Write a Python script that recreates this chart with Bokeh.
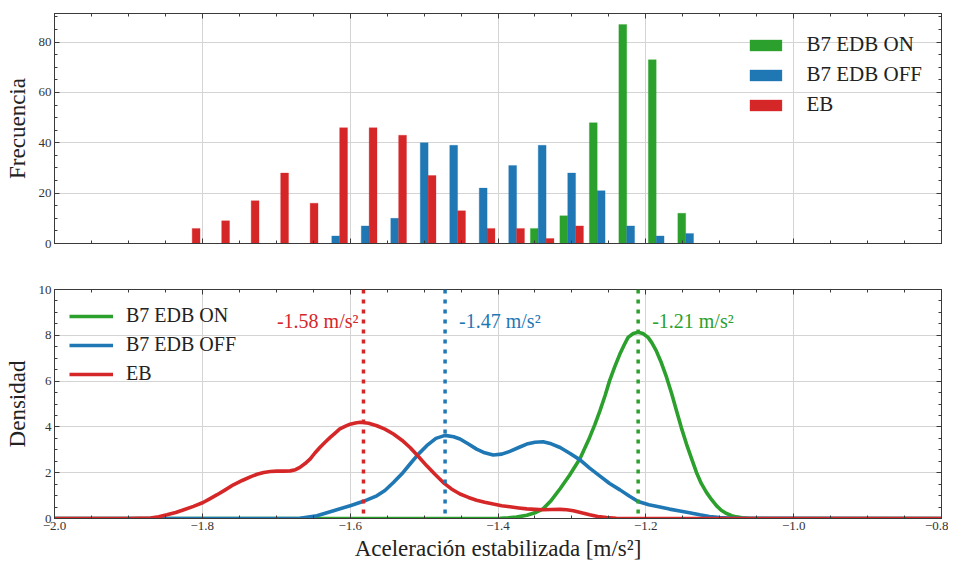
import numpy as np
from bokeh.plotting import figure
from bokeh.models import (Range1d, LinearAxis, FixedTicker, CustomJSTickFormatter,
                          Span, Legend, LegendItem, ColumnDataSource)
from bokeh.layouts import column
from bokeh.embed import file_html
from bokeh.resources import INLINE
from bokeh.core.properties import value

# ---------------- data ----------------
series = ["B7 EDB ON", "B7 EDB OFF", "EB"]
colors = ["#2ca02c", "#1f77b4", "#d62728"]

bin_edges = [-1.8390, -1.7991, -1.7592, -1.7193, -1.6794, -1.6395, -1.5996, -1.5597,
             -1.5198, -1.4799, -1.4400, -1.4001, -1.3602, -1.3203, -1.2804, -1.2405,
             -1.2006, -1.1607, -1.1208]
counts_on = [0, 0, 0, 0, 0, 0, 0, 0, 0, 0, 0, 0, 6, 11, 48, 87, 73, 12]
counts_off = [0, 0, 0, 0, 0, 3, 7, 10, 40, 39, 22, 31, 39, 28, 21, 7, 3, 4]
counts_eb = [6, 9, 17, 28, 16, 46, 46, 43, 27, 13, 6, 6, 2, 7, 0, 0, 0, 0]

kde_on_x = [-2.0, -1.42, -1.397, -1.386, -1.375, -1.361, -1.350, -1.339, -1.329, -1.316,
            -1.303, -1.289, -1.276, -1.269, -1.262, -1.255, -1.249, -1.242, -1.235, -1.229,
            -1.224, -1.217, -1.2104, -1.204, -1.197, -1.192, -1.186, -1.179, -1.172, -1.165,
            -1.1585, -1.152, -1.145, -1.138, -1.1315, -1.125, -1.118, -1.111, -1.1045, -1.098,
            -1.091, -1.084, -1.0775, -1.07, -1.06, -0.8]
kde_on_y = [0, 0, 0.01, 0.03, 0.06, 0.14, 0.25, 0.42, 0.75, 1.30,
            1.90, 2.62, 3.54, 4.10, 4.71, 5.38, 6.02, 6.63, 7.19, 7.60,
            7.91, 8.08, 8.13, 8.08, 7.91, 7.68, 7.33, 6.80, 6.17, 5.45,
            4.71, 3.97, 3.25, 2.60, 2.01, 1.53, 1.14, 0.82, 0.56, 0.36,
            0.22, 0.12, 0.07, 0.03, 0, 0]

kde_off_x = [-2.0, -1.70, -1.668, -1.645, -1.6225, -1.600, -1.582, -1.564, -1.553, -1.5415,
             -1.530, -1.519, -1.508, -1.4964, -1.484, -1.4716, -1.460, -1.4514, -1.440, -1.429,
             -1.418, -1.4064, -1.395, -1.384, -1.372, -1.361, -1.350, -1.339, -1.328, -1.316,
             -1.303, -1.289, -1.276, -1.262, -1.249, -1.235, -1.222, -1.2104, -1.196, -1.181,
             -1.168, -1.154, -1.141, -1.127, -1.114, -1.100, -1.08, -0.8]
kde_off_y = [0, 0, 0.01, 0.12, 0.34, 0.56, 0.75, 0.99, 1.22, 1.57,
             1.95, 2.38, 2.80, 3.18, 3.50, 3.63, 3.57, 3.47, 3.25, 3.03,
             2.87, 2.77, 2.81, 2.93, 3.10, 3.25, 3.33, 3.35, 3.26, 3.10,
             2.85, 2.56, 2.20, 1.85, 1.53, 1.25, 0.97, 0.74, 0.60, 0.50,
             0.41, 0.33, 0.25, 0.16, 0.09, 0.04, 0.01, 0]

kde_eb_x = [-2.0, -1.90, -1.870, -1.859, -1.848, -1.836, -1.825, -1.812, -1.799, -1.790,
            -1.780, -1.769, -1.758, -1.746, -1.735, -1.726, -1.717, -1.708, -1.699, -1.690,
            -1.681, -1.674, -1.668, -1.661, -1.654, -1.648, -1.641, -1.634, -1.627, -1.620,
            -1.614, -1.607, -1.600, -1.593, -1.5865, -1.575, -1.564, -1.553, -1.5415, -1.530,
            -1.519, -1.508, -1.4964, -1.485, -1.474, -1.463, -1.4514, -1.440, -1.429, -1.418,
            -1.4064, -1.395, -1.384, -1.372, -1.361, -1.350, -1.339, -1.328, -1.316, -1.307,
            -1.298, -1.287, -1.276, -1.265, -1.253, -1.24, -1.225, -0.8]
kde_eb_y = [0, 0, 0.02, 0.08, 0.16, 0.26, 0.38, 0.53, 0.70, 0.86,
            1.04, 1.25, 1.47, 1.66, 1.82, 1.93, 2.01, 2.05, 2.07, 2.07,
            2.08, 2.13, 2.23, 2.40, 2.60, 2.85, 3.10, 3.33, 3.54, 3.74,
            3.91, 4.02, 4.12, 4.17, 4.20, 4.16, 4.05, 3.90, 3.69, 3.42,
            3.10, 2.72, 2.30, 1.92, 1.57, 1.29, 1.07, 0.92, 0.80, 0.71,
            0.63, 0.56, 0.51, 0.46, 0.42, 0.40, 0.38, 0.39, 0.40, 0.38,
            0.34, 0.25, 0.16, 0.09, 0.04, 0.01, 0, 0]

means = [-1.2104, -1.4716, -1.5820]

x_major = [-2.0, -1.8, -1.6, -1.4, -1.2, -1.0, -0.8]
x_minor = [round(-2.0 + 0.05 * i, 2) for i in range(25)]
y1_major = [0, 20, 40, 60, 80]
y1_minor = list(range(0, 95, 5))
y2_major = [0, 2, 4, 6, 8, 10]
y2_minor = [0.5 * i for i in range(21)]

# ---------------- style ----------------
FONT = "Liberation Serif"
FRAME = "#3a3a3a"
W = 948


def minus_fmt(decimals):
    return CustomJSTickFormatter(args=dict(dec=decimals), code="""
        let s = (Math.abs(tick) < 1e-9) ? (0).toFixed(dec) : tick.toFixed(dec);
        return s.replace('-', '\u2212');
    """)


def style_axis(ax, ticker, show_labels, decimals=0):
    ax.ticker = ticker
    ax.axis_line_color = FRAME
    ax.major_tick_line_color = FRAME
    ax.minor_tick_line_color = FRAME
    ax.major_tick_in = 5
    ax.major_tick_out = 0
    ax.minor_tick_in = 3
    ax.minor_tick_out = 0
    ax.major_label_text_font = FONT
    ax.axis_label_text_font = FONT
    ax.axis_label_text_font_style = "normal"
    ax.axis_label_text_color = "#222222"
    ax.axis_label_text_font_size = "23px"
    if show_labels:
        ax.major_label_text_color = "#333333"
        ax.major_label_text_font_size = "13px"
        ax.major_label_standoff = 3
        ax.formatter = minus_fmt(decimals)
    else:
        ax.major_label_text_color = None
        ax.major_label_text_font_size = "1px"
        ax.major_label_standoff = 0


def make_fig(height, yrange, yticker, ylabel, xlabel, show_x_labels, b_top, b_bottom):
    p = figure(width=W, height=height, output_backend="svg", toolbar_location=None,
               x_range=Range1d(-2.0, -0.8), y_range=yrange,
               x_axis_location=None, y_axis_location=None,
               min_border_left=54, min_border_right=7,
               min_border_top=b_top, min_border_bottom=b_bottom)
    p.outline_line_color = FRAME
    p.outline_line_width = 1
    p.background_fill_color = "white"
    p.border_fill_color = "white"
    xt = FixedTicker(ticks=x_major, minor_ticks=x_minor)

    bottom = LinearAxis()
    style_axis(bottom, xt, show_x_labels, decimals=1)
    if xlabel:
        bottom.axis_label = xlabel
        bottom.axis_label_standoff = 3
    p.add_layout(bottom, "below")

    left = LinearAxis()
    style_axis(left, yticker, True, decimals=0)
    left.axis_label = ylabel
    left.axis_label_standoff = 6
    p.add_layout(left, "left")

    top = LinearAxis()
    style_axis(top, FixedTicker(ticks=x_major, minor_ticks=x_minor), False)
    p.add_layout(top, "above")
    right = LinearAxis()
    style_axis(right, yticker, False)
    p.add_layout(right, "right")

    p.xgrid.ticker = xt
    p.ygrid.ticker = yticker
    p.grid.grid_line_color = "#d4d4d4"
    p.grid.grid_line_width = 1
    return p


# ---------------- top: histogram ----------------
yt1 = FixedTicker(ticks=y1_major, minor_ticks=y1_minor)
p1 = make_fig(266, Range1d(0, 91.35), yt1, "Frecuencia", None, False, 13, 23)

edges = np.array(bin_edges)
bw = np.diff(edges)
bar_w = 0.8 * bw / 3.0
lefts = edges[:-1] + 0.1 * bw
bar_renderers = []
for i, counts in enumerate([counts_on, counts_off, counts_eb]):
    src = ColumnDataSource(dict(x=lefts + bar_w * (i + 0.5), top=counts, w=bar_w))
    r = p1.vbar(x="x", top="top", width="w", bottom=0, source=src,
                fill_color=colors[i], line_color=colors[i], line_width=0.5,
                line_alpha=0.6)
    bar_renderers.append(r)

leg1 = Legend(items=[LegendItem(label=s, renderers=[r]) for s, r in zip(series, bar_renderers)],
              location="top_right", background_fill_alpha=0, border_line_alpha=0,
              label_text_font=FONT, label_text_font_size="21px", label_text_color="#222222",
              glyph_width=40, glyph_height=14, spacing=5, padding=7, margin=12,
              label_standoff=21)
p1.add_layout(leg1)

# ---------------- bottom: densities ----------------
yt2 = FixedTicker(ticks=y2_major, minor_ticks=y2_minor)
p2 = make_fig(300, Range1d(0, 10), yt2, "Densidad", "Aceleración estabilizada [m/s²]",
              True, 23, 48)

line_renderers = []
for i, (xs, ys) in enumerate([(kde_on_x, kde_on_y), (kde_off_x, kde_off_y), (kde_eb_x, kde_eb_y)]):
    r = p2.line(xs, ys, line_color=colors[i], line_width=3.6, line_join="round")
    line_renderers.append(r)

for i, m in enumerate(means):
    p2.add_layout(Span(location=m, dimension="height", line_color=colors[i],
                       line_width=3.5, line_dash="4 6"))

lab_src = ColumnDataSource(dict(
    x=means,
    text=[f"{m:.2f} m/s²" for m in means],
    color=colors,
    xoff=[14, 14, -5],
    align=["left", "left", "right"],
))
p2.text(x="x", y=8.62, text="text", source=lab_src, text_color="color",
        x_offset="xoff", text_align="align", text_baseline="alphabetic",
        text_font=value(FONT), text_font_size="20px")

leg2 = Legend(items=[LegendItem(label=s, renderers=[r]) for s, r in zip(series, line_renderers)],
              location="top_left", background_fill_alpha=0, border_line_alpha=0,
              label_text_font=FONT, label_text_font_size="20px", label_text_color="#222222",
              glyph_width=44, glyph_height=20, spacing=6, padding=7, margin=8,
              label_standoff=13)
p2.add_layout(leg2)

layout = column(p1, p2, spacing=0)
open("out.html", "w").write(file_html(layout, INLINE))
